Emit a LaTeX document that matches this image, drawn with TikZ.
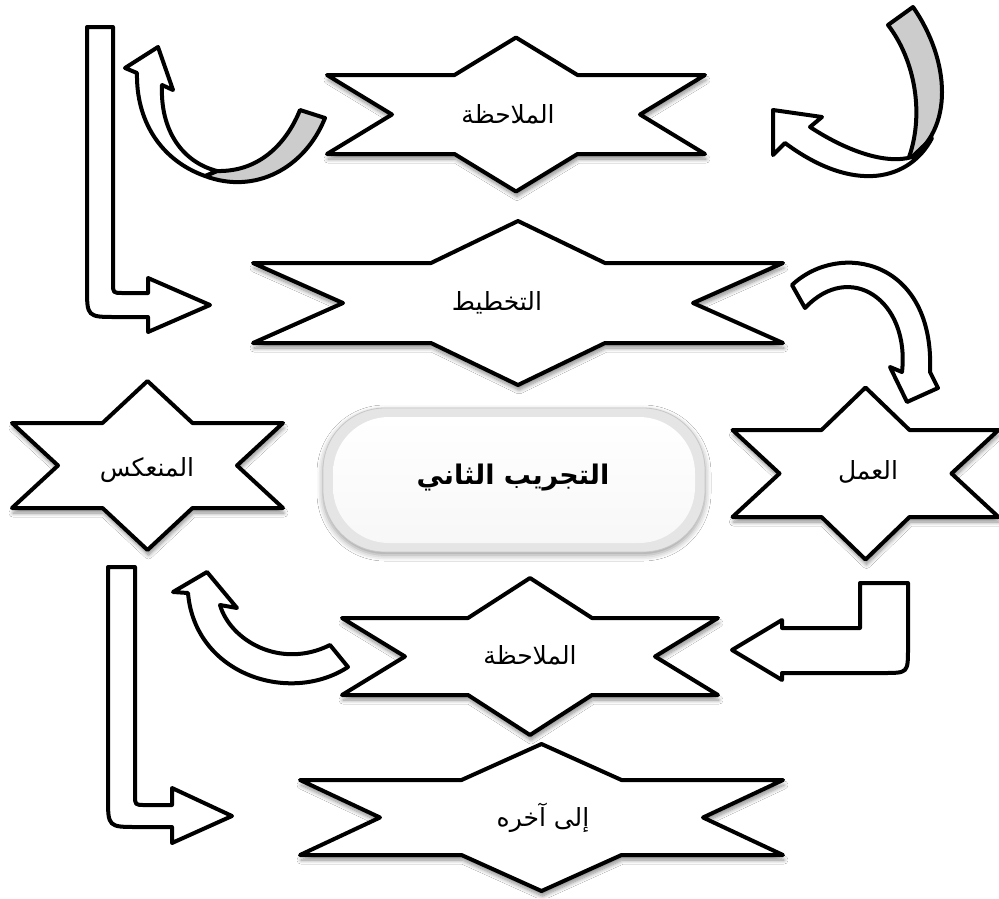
\documentclass[tikz,border=0pt]{standalone}
\usepackage{fontspec}
\newfontfamily\arabicfont[Script=Arabic]{DejaVu Sans}
\TeXXeTstate=1
\usetikzlibrary{shadows.blur}
\newcommand\hexstar[7]{% cx cy W h H a n
 \path[starbox] ({#1-#3},{#2-#4}) -- ({#1-#6},{#2-#4}) -- (#1,{#2-#5}) -- ({#1+#6},{#2-#4}) -- ({#1+#3},{#2-#4}) -- ({#1+#7},#2) -- ({#1+#3},{#2+#4}) -- ({#1+#6},{#2+#4}) -- (#1,{#2+#5}) -- ({#1-#6},{#2+#4}) -- ({#1-#3},{#2+#4}) -- ({#1-#7},#2) -- cycle;}
\begin{document}
\begin{tikzpicture}[x=1pt,y=-1pt,
  starbox/.style={draw=black, line width=4pt, line join=round, fill=white,
    blur shadow={shadow xshift=1pt, shadow yshift=-5pt, shadow blur radius=4pt, shadow blur steps=8, shadow opacity=45}},
  blockarrow/.style={draw=black, line width=4pt, line join=round, fill=white},
  backside/.style={draw=black, line width=4pt, line join=round, fill=black!20},
  lbl/.style={font=\arabicfont\fontsize{25}{30}\selectfont, inner sep=0pt},
]
\useasboundingbox (0,0) rectangle (999,898);
\fill[white] (0,0) rectangle (999,898);

% stars
\hexstar{516}{114.5}{189}{39.5}{77}{61.5}{124}
\hexstar{518}{303}{265}{40}{82}{87}{175}
\hexstar{147.5}{465.5}{135.5}{42.5}{84.5}{45}{89.5}
\hexstar{865.5}{473.5}{133}{43.5}{86}{44}{86}
\hexstar{530}{656.5}{188}{38.5}{78.5}{62}{125}
\hexstar{541.5}{817.5}{241.5}{37.5}{73.5}{80}{161.5}

\node[lbl] (obs1) at (508,114) {\beginR الملاحظة\endR};
\node[lbl] (plan) at (497,303) {\beginR التخطيط\endR};
\node[lbl] (refl) at (147,470) {\beginR المنعكس\endR};
\node[lbl] (act) at (868,472) {\beginR العمل\endR};
\node[lbl] (obs2) at (530,655) {\beginR الملاحظة\endR};
\node[lbl] (etc) at (543,818) {\beginR إلى آخره\endR};

% central pill
\path[blur shadow={shadow xshift=0pt, shadow yshift=-3pt, shadow blur radius=6pt, shadow opacity=40},
  rounded corners=62pt, fill=black!10, draw=black!22, line width=0.8pt] (323,408) rectangle (705,552);
\path[rounded corners=56pt, top color=white, bottom color=black!3] (333,417) rectangle (695,543);
\node[font=\arabicfont\bfseries\fontsize{27}{32}\selectfont, inner sep=0pt] (title) at (513,478) {\beginR التجريب الثاني\endR};

% top-left L arrow
\draw[blockarrow] (87,27) -- (113,27) -- (113,283) .. controls (113,293) .. (123,293) -- (148,293) -- (148,278) -- (210,305) -- (148,332) -- (148,317) -- (117,317) .. controls (87,317) .. (87,287) -- cycle;

% bottom-left L arrow
\draw[blockarrow] (108,567) -- (135,567) -- (135,795) .. controls (135,805) .. (145,805) -- (172,805) -- (172,788) -- (232,816) -- (172,843) -- (172,827) -- (138,827) .. controls (108,827) .. (108,797) -- cycle;

% bottom-right L arrow
\draw[blockarrow] (860,583) -- (908,583) -- (908,648) .. controls (908,673) .. (883,673) -- (782,673) -- (782,680) -- (732,650) -- (782,620) -- (782,628) -- (860,628) -- cycle;

% top-right curved arrow
\draw[backside] (888,25) -- (913,7) .. controls (950,60) and (955,130) .. (908,160) .. controls (925,115) and (915,60) .. (888,25) -- cycle;
\draw[blockarrow] (773,110) -- (822,117) -- (810,127) .. controls (845,150) and (885,165) .. (912,157) -- (932,138) .. controls (910,180) and (855,195) .. (785,143) -- (773,155) -- cycle;

% top-left curved arrow
\draw[backside] (300,110) -- (325,118) .. controls (305,168) and (255,195) .. (205,176) -- (217,171) .. controls (262,172) and (288,140) .. (300,110) -- cycle;
\draw[blockarrow] (125,68) -- (158,47) -- (173,90) -- (162,85) .. controls (160,130) and (182,162) .. (217,171) -- (205,176) .. controls (160,160) and (136,120) .. (137,73) -- cycle;

% bottom-left curved arrow
\draw[blockarrow] (173,592) -- (207,572) -- (237,608) -- (220,605) .. controls (230,640) and (280,670) .. (330,645) -- (348,667) .. controls (290,705) and (195,675) .. (188,593) -- cycle;

% right curved arrow
\draw[blockarrow] (805,308) -- (792,285) .. controls (840,240) and (935,260) .. (930,372) -- (938,388) -- (907,402) -- (890,367) -- (902,372) .. controls (910,300) and (850,260) .. (805,308) -- cycle;
\end{tikzpicture}
\end{document}
